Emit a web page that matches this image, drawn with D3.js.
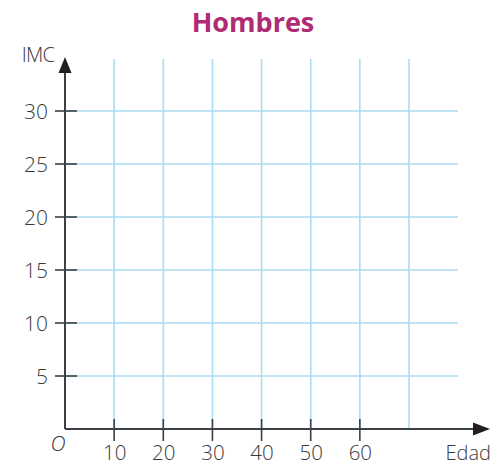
<!DOCTYPE html>
<html><head><meta charset="utf-8">
<script src="https://cdn.jsdelivr.net/npm/d3@7"></script>
<style>body{margin:0;background:#fff}svg{display:block}</style>
</head><body>
<svg id="c" width="501" height="466"></svg>
<script>
const title = "Hombres";
const xLabel = "Edad";
const yLabel = "IMC";
const xTickLabels = [10, 20, 30, 40, 50, 60];
const xGrid = [10, 20, 30, 40, 50, 60, 70];
const yTickLabels = [5, 10, 15, 20, 25, 30];

const svg = d3.select("#c");
const x = d3.scaleLinear().domain([0, 70]).range([65, 409]);
const y = d3.scaleLinear().domain([0, 30]).range([429, 111]);
const axisColor = "#3b4046";
const gridColor = "#aadcf2";
const font = "'Open Sans', sans-serif";
const textColor = "#3a3a3a";

// grid
svg.append("g").selectAll("line").data(xGrid).join("line")
  .attr("x1", d => x(d)).attr("x2", d => x(d))
  .attr("y1", 59).attr("y2", y(0))
  .attr("stroke", gridColor).attr("stroke-width", 1.6);
svg.append("g").selectAll("line").data(yTickLabels).join("line")
  .attr("x1", x(0)).attr("x2", 458)
  .attr("y1", d => y(d)).attr("y2", d => y(d))
  .attr("stroke", gridColor).attr("stroke-width", 1.6);

// ticks (crossing)
svg.append("g").selectAll("line").data(yTickLabels).join("line")
  .attr("x1", x(0) - 10).attr("x2", x(0) + 12)
  .attr("y1", d => y(d)).attr("y2", d => y(d))
  .attr("stroke", axisColor).attr("stroke-width", 1.6);
svg.append("g").selectAll("line").data(xTickLabels).join("line")
  .attr("x1", d => x(d)).attr("x2", d => x(d))
  .attr("y1", y(0) - 10).attr("y2", y(0) + 12)
  .attr("stroke", axisColor).attr("stroke-width", 1.6);

// axes labels via d3 axis
const yAxis = svg.append("g").attr("transform", `translate(${x(0)},0)`)
  .call(d3.axisLeft(y).tickValues(yTickLabels).tickSize(0).tickPadding(17));
yAxis.select(".domain").remove();
yAxis.selectAll("text").attr("font-family", font).attr("font-size", 21)
  .attr("font-weight", 300).attr("fill", textColor).attr("dy", "0.36em");

const xAxis = svg.append("g").attr("transform", `translate(0,${y(0)})`)
  .call(d3.axisBottom(x).tickValues(xTickLabels).tickSize(0).tickPadding(16));
xAxis.select(".domain").remove();
xAxis.selectAll("text").attr("font-family", font).attr("font-size", 20.5)
  .attr("font-weight", 300).attr("fill", textColor);

// axis lines with arrows
svg.append("line").attr("x1", x(0)).attr("x2", 476).attr("y1", y(0)).attr("y2", y(0))
  .attr("stroke", axisColor).attr("stroke-width", 2);
svg.append("path").attr("d", `M473,${y(0)-6.5} L490,${y(0)} L473,${y(0)+6.5} Z`).attr("fill", "#231f20");
svg.append("line").attr("x1", x(0)).attr("x2", x(0)).attr("y1", y(0)).attr("y2", 70)
  .attr("stroke", axisColor).attr("stroke-width", 2);
svg.append("path").attr("d", `M${x(0)-6.5},73 L${x(0)},57 L${x(0)+6.5},73 Z`).attr("fill", "#231f20");

// labels
svg.append("text").attr("x", 253).attr("y", 32).attr("text-anchor", "middle")
  .attr("font-family", font).attr("font-weight", 700).attr("font-size", 27)
  .attr("fill", "#b02a74").text(title);
svg.append("text").attr("x", 54).attr("y", 62).attr("text-anchor", "end")
  .attr("font-family", font).attr("font-size", 20).attr("font-weight", 300)
  .attr("fill", textColor).attr("letter-spacing", -0.8).text(yLabel);
svg.append("text").attr("x", 491).attr("y", 460).attr("text-anchor", "end")
  .attr("font-family", font).attr("font-size", 20).attr("font-weight", 300)
  .attr("fill", textColor).text(xLabel);
svg.append("text").attr("x", 58).attr("y", 451).attr("text-anchor", "middle")
  .attr("font-family", font).attr("font-style", "italic").attr("font-weight", 300)
  .attr("font-size", 21).attr("fill", "#333").text("O");
</script>
</body></html>
